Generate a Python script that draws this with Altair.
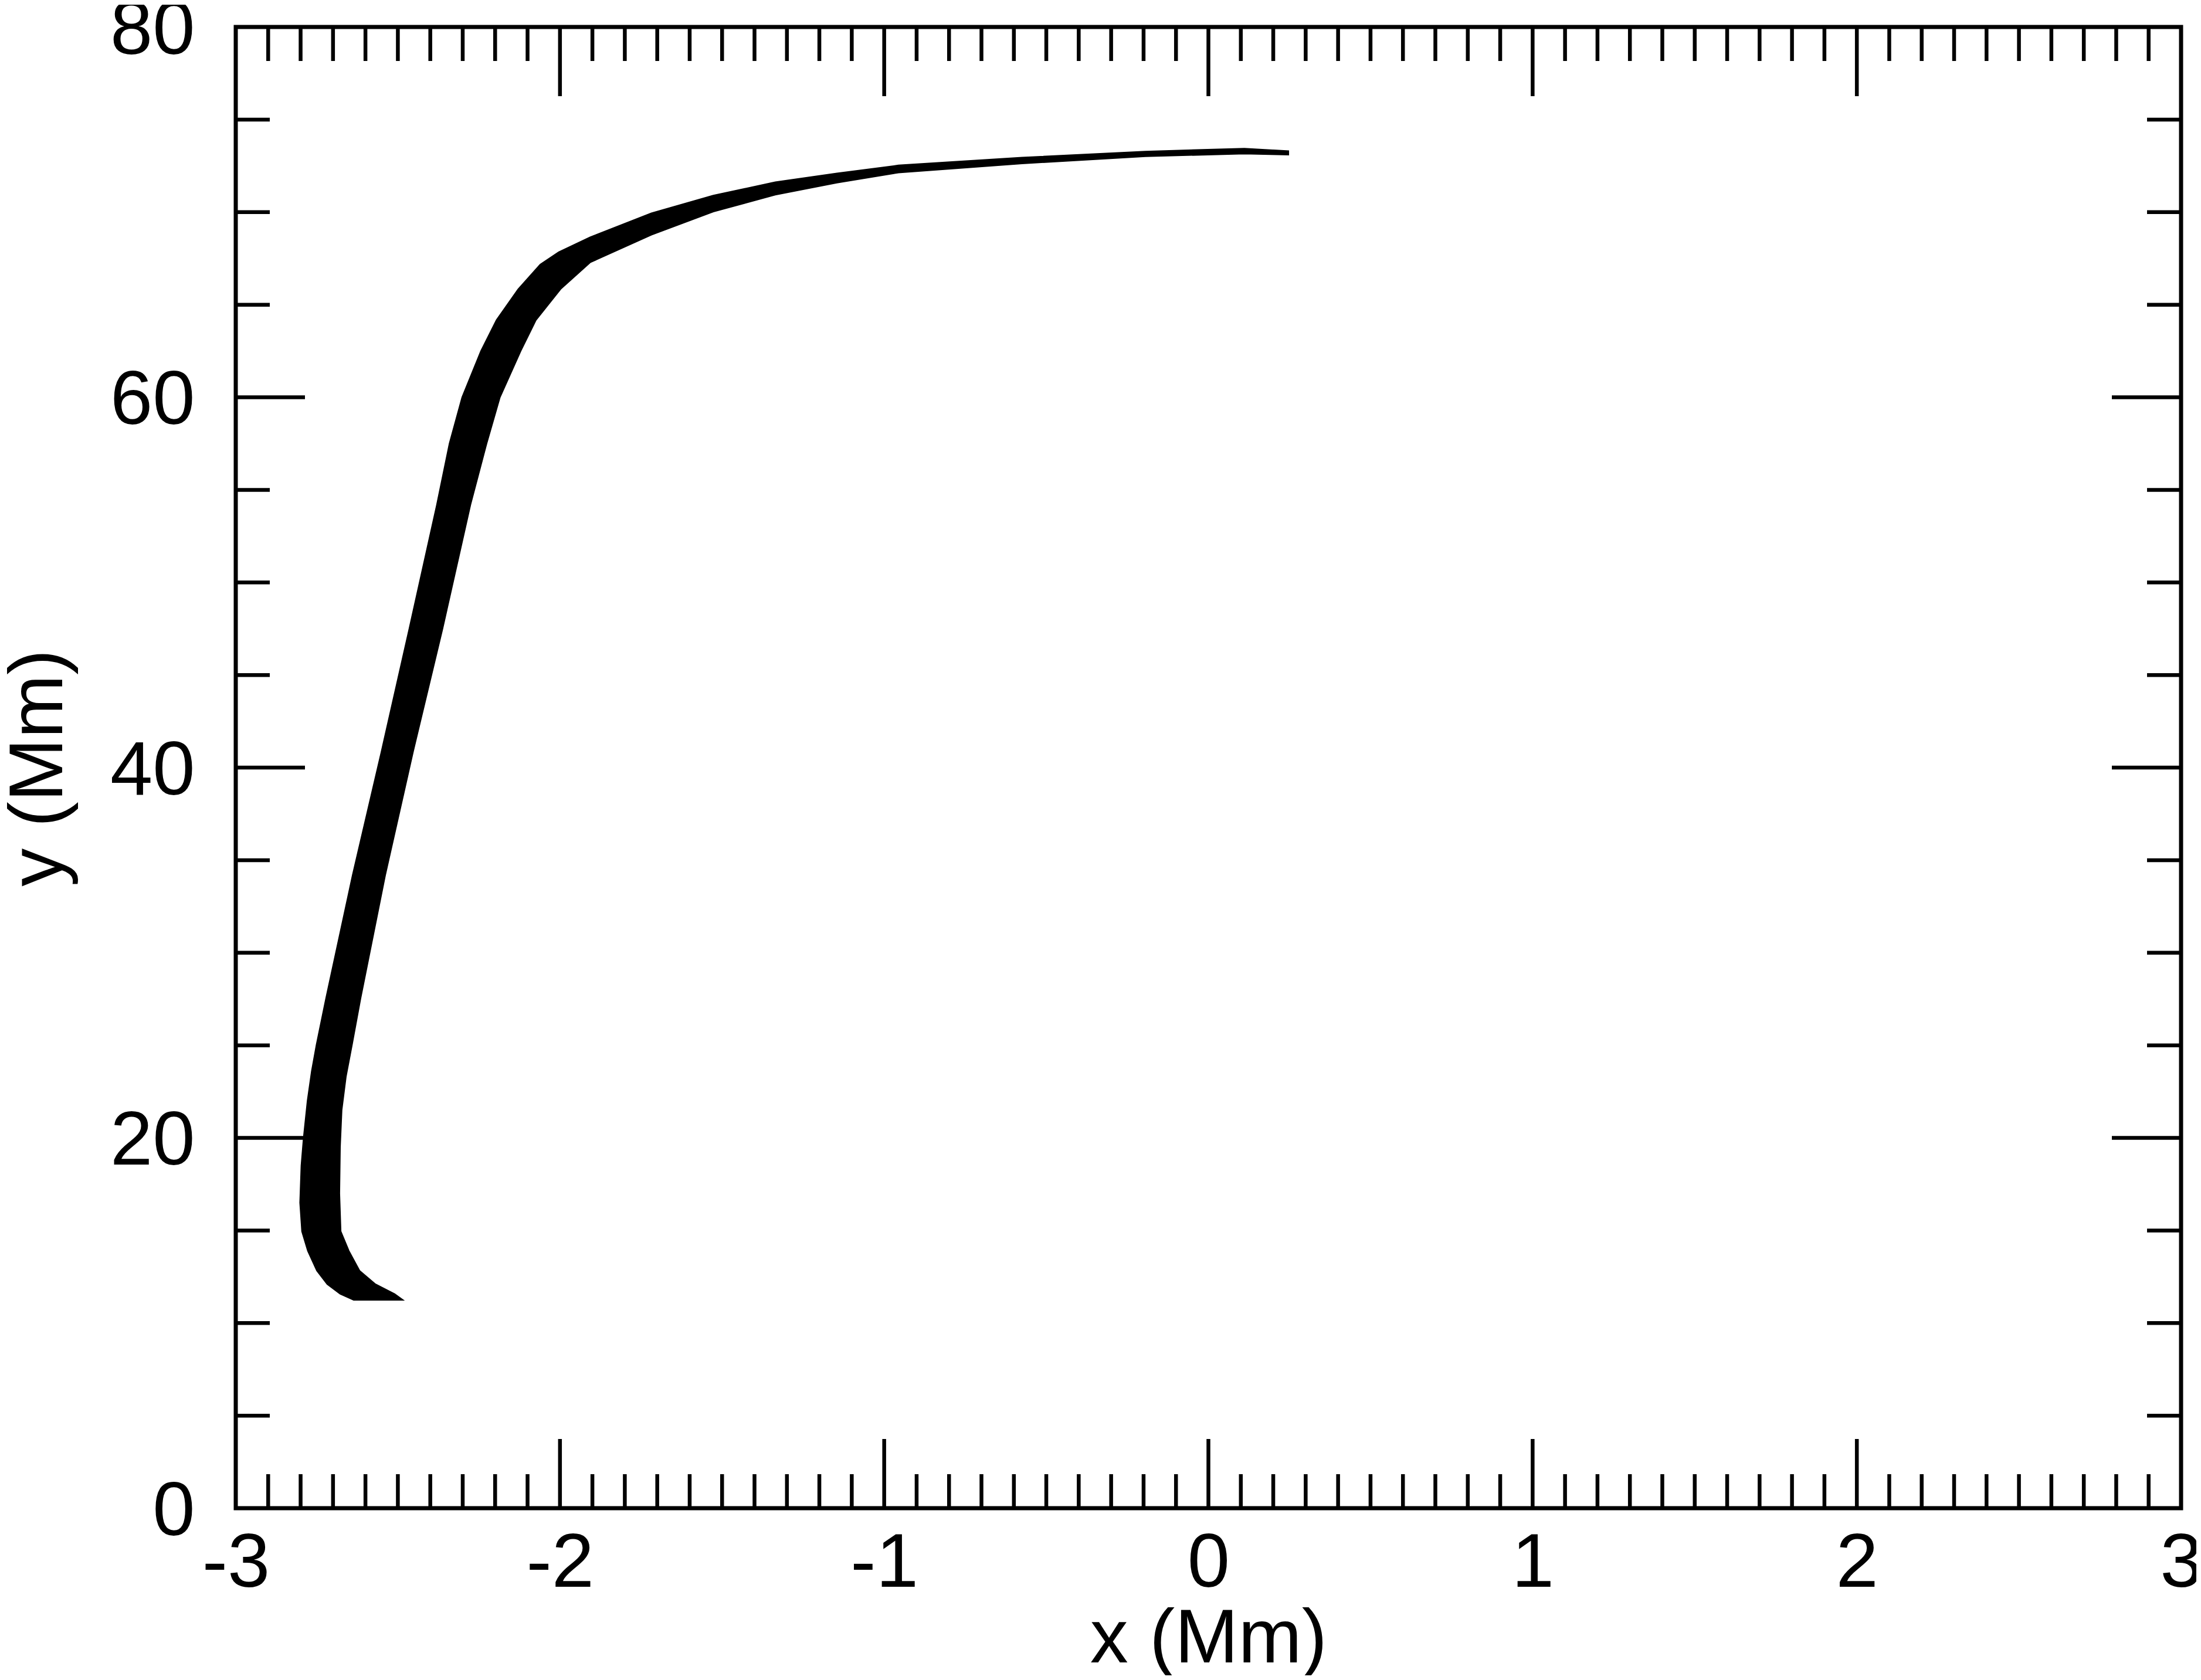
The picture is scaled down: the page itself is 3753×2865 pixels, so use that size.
import altair as alt
import pandas as pd

# Outer (left/upper) edge of the field-line bundle, from bottom footpoints to the tip
outer_x = [-2.636, -2.678, -2.718, -2.750, -2.778, -2.796, -2.802, -2.798, -2.791, -2.779,
           -2.766, -2.751, -2.722, -2.640, -2.551, -2.465, -2.380, -2.341, -2.302, -2.244,
           -2.196, -2.129, -2.061, -2.004, -1.907, -1.718, -1.527, -1.336, -1.146, -0.956,
           -0.575, -0.194, 0.111, 0.247]
outer_y = [11.24, 11.57, 12.10, 12.83, 13.90, 14.95, 16.5, 18.5, 20.0, 22.0,
           23.6, 25.05, 27.52, 34.17, 40.85, 47.50, 54.19, 57.51, 60.0, 62.5,
           64.17, 65.84, 67.17, 67.84, 68.65, 69.95, 70.9, 71.62, 72.1, 72.53,
           72.95, 73.28, 73.44, 73.30]

# Inner (right/lower) edge, from the tip back down to the footpoints
inner_x = [0.247, 0.111, -0.194, -0.575, -0.956, -1.146, -1.336, -1.527, -1.718, -1.907,
           -1.998, -2.074, -2.121, -2.185, -2.226, -2.276, -2.362, -2.453, -2.539, -2.615,
           -2.641, -2.660, -2.673, -2.678, -2.680, -2.676, -2.651, -2.618, -2.569, -2.510,
           -2.484]
inner_y = [73.10, 73.15, 73.01, 72.62, 72.13, 71.58, 70.93, 70.02, 68.77, 67.28,
           65.84, 64.17, 62.5, 60.0, 57.51, 54.19, 47.5, 40.85, 34.17, 27.52,
           25.05, 23.3, 21.5, 19.5, 17.0, 14.95, 13.9, 12.83, 12.1, 11.57,
           11.24]

x_labels = [-3, -2, -1, 0, 1, 2, 3]
y_labels = [0, 20, 40, 60, 80]
x_major = [-2, -1, 0, 1, 2]
x_minor = [round(-3 + 0.1 * k, 1) for k in range(1, 60) if k % 10 != 0]
y_major = [20, 40, 60]
y_minor = [5, 10, 15, 25, 30, 35, 45, 50, 55, 65, 70, 75]

W, H = 3317, 2526
MINOR, MAJOR = 58, 118
TICK_W = 6.5
FONT = "Liberation Sans"
FS = 130

poly = pd.DataFrame({
    "x": outer_x + inner_x,
    "y": outer_y + inner_y,
    "i": list(range(len(outer_x) + len(inner_x))),
})

xs = alt.Scale(domain=[-3, 3], nice=False, zero=False)
ys = alt.Scale(domain=[0, 80], nice=False, zero=False)

x_axis = alt.Axis(values=x_labels, title="x (Mm)", labelExpr="'' + datum.value",
                  tickSize=0, ticks=False, domain=False, grid=False, labelPadding=30,
                  labelFontSize=FS, labelFont=FONT, labelColor="black", labelFlush=False,
                  labelOverlap=False, titleFontSize=FS, titleFont=FONT,
                  titleFontWeight="normal", titleColor="black", titleBaseline="alphabetic",
                  titleY=262)
y_axis = alt.Axis(values=y_labels, title="y (Mm)", labelExpr="'' + datum.value",
                  tickSize=0, ticks=False, domain=False, grid=False, labelPadding=70,
                  labelFontSize=FS, labelFont=FONT, labelColor="black", labelFlush=False,
                  labelOverlap=False, labelOffset=6, titleFontSize=FS, titleFont=FONT,
                  titleFontWeight="normal", titleColor="black", titleBaseline="alphabetic",
                  titleAngle=270, titleX=-297, titleY=H / 2, titleAlign="center")

X = alt.X("x:Q", scale=xs, axis=x_axis)
Y = alt.Y("y:Q", scale=ys, axis=y_axis)

curve = alt.Chart(poly).mark_line(
    interpolate="linear-closed", fill="black", stroke="black", strokeWidth=2
).encode(x=X, y=Y, order=alt.Order("i:Q"))


def xticks(vals, length):
    df = pd.DataFrame({"x": vals})
    base = alt.Chart(df).mark_rule(color="black", strokeWidth=TICK_W)
    bottom = base.encode(x=X, y=alt.value(H), y2=alt.value(H - length))
    top = base.encode(x=X, y=alt.value(0), y2=alt.value(length))
    return [bottom, top]


def yticks(vals, length):
    df = pd.DataFrame({"y": vals})
    base = alt.Chart(df).mark_rule(color="black", strokeWidth=TICK_W)
    left = base.encode(y=Y, x=alt.value(0), x2=alt.value(length))
    right = base.encode(y=Y, x=alt.value(W), x2=alt.value(W - length))
    return [left, right]


layers = [curve] + xticks(x_minor, MINOR) + xticks(x_major, MAJOR) \
    + yticks(y_minor, MINOR) + yticks(y_major, MAJOR)

chart = alt.layer(*layers).properties(
    width=W, height=H,
    autosize=alt.AutoSizeParams(type="none"),
    padding={"left": 394, "top": 38, "right": 26, "bottom": 285},
    background="white",
).configure_view(stroke="black", strokeWidth=7)

chart.save("out.html", embed_options={"renderer": "svg", "actions": False})
